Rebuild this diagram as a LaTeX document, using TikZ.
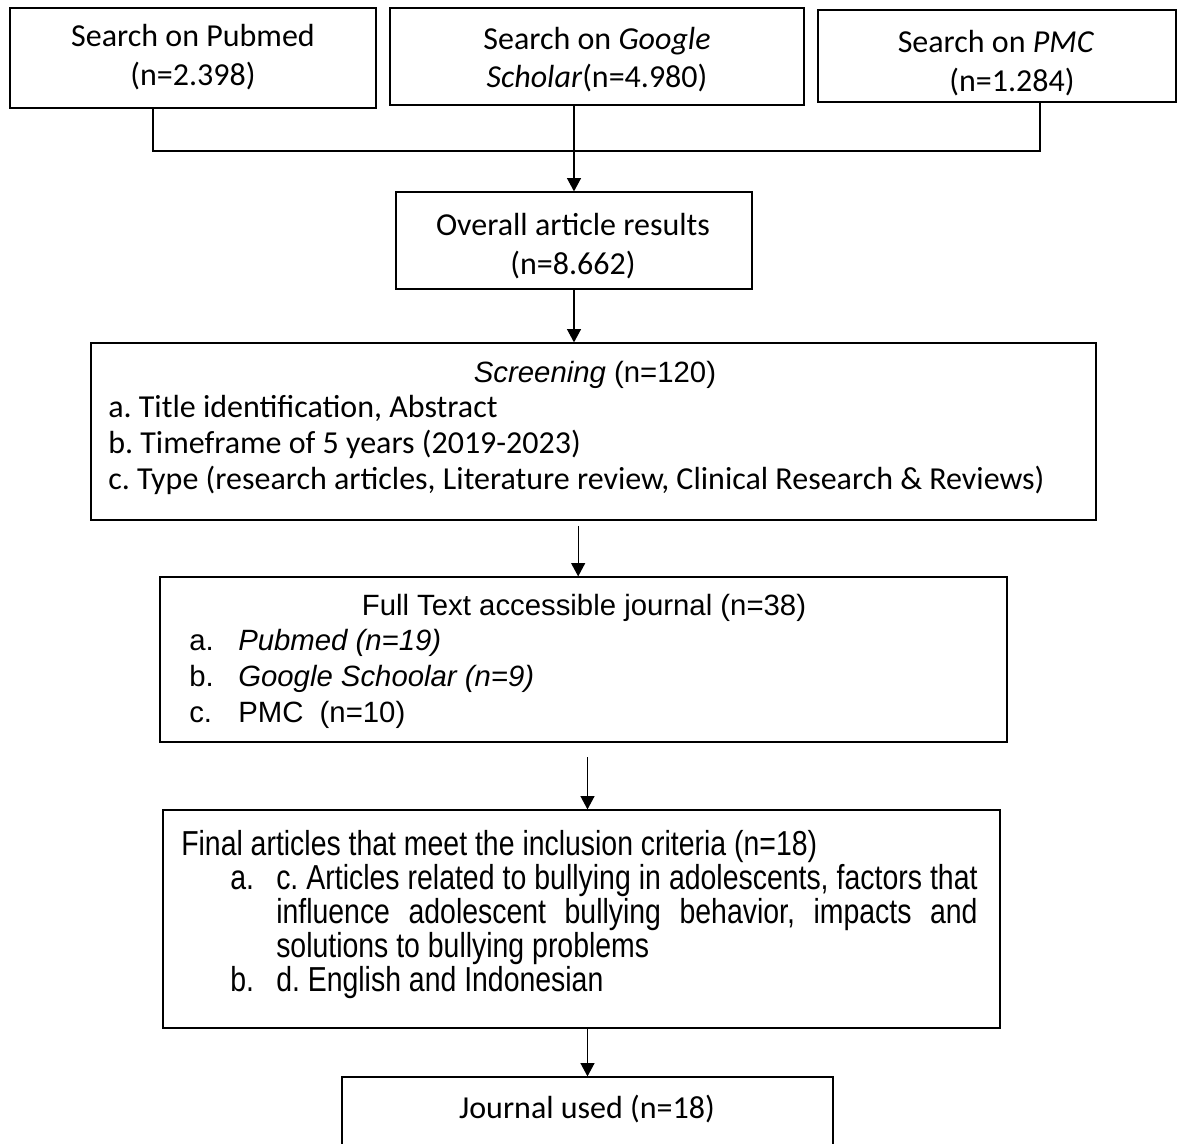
\documentclass[tikz,border=0pt]{standalone}
\usepackage{fontspec}
\setmainfont{Carlito}
\newfontfamily\arialf{Liberation Sans}
\newfontfamily\narrowf[FakeStretch=0.82]{Liberation Sans}
\usetikzlibrary{arrows.meta,fit}
\frenchspacing
\begin{document}
\begin{tikzpicture}[x=0.75pt,y=-0.75pt,
  box/.style={draw, line width=0.9pt, inner sep=0pt, fit={#1}},
  ln/.style={line width=0.9pt},
  arr/.style={line width=0.9pt, -{Triangle[length=10pt,width=10.5pt]}},
  cal/.style={inner sep=0pt, anchor=base, font=\fontsize{24}{29}\selectfont},
  calL/.style={cal, anchor=base west},
  ari/.style={inner sep=0pt, anchor=base, font=\arialf\fontsize{22}{26}\selectfont},
  ariL/.style={ari, anchor=base west},
  nar/.style={inner sep=0pt, anchor=base west, font=\narrowf\fontsize{26}{30}\selectfont}]
\useasboundingbox (0,0) rectangle (1179,1144);
\clip (0,0) rectangle (1179,1144);
% boxes
\node[box={(10,8) (376,108)}] (pm) {};
\node[box={(390,8) (804,105)}] (gs) {};
\node[box={(818,10) (1176,102)}] (pmc) {};
\node[box={(396,192) (752,289)}] (ov) {};
\node[box={(91,343) (1096,520)}] (scr) {};
\node[box={(160,577) (1007,742)}] (ft) {};
\node[box={(163,810) (1000,1028)}] (fin) {};
\node[box={(342,1077) (833,1170)}] (jr) {};
% texts
\node[cal] (pmA) at (193,47) {Search on Pubmed};
\node[cal] (pmB) at (193,86) {(n=2.398)};
\node[cal] (gsA) at (597,50) {Search on \textit{Google}};
\node[cal] (gsB) at (597,88) {\textit{Scholar}(n=4.980)};
\node[cal] (pmcA) at (996,53) {Search on \textit{PMC}};
\node[cal] (pmcB) at (1012,92) {(n=1.284)};
\node[cal] (ovA) at (573,236) {Overall article results};
\node[cal] (ovB) at (573,275) {(n=8.662)};
\node[ari] (scrT) at (595,383) {\textit{Screening} (n=120)};
\node[calL] (scrA) at (108,418) {a. Title identification, Abstract};
\node[calL] (scrB) at (108,454) {b. Timeframe of 5 years (2019-2023)};
\node[calL] (scrC) at (108,490) {c. Type (research articles, Literature review, Clinical Research \& Reviews)};
\node[ari] (ftT) at (584,616) {Full Text accessible journal (n=38)};
\node[ariL] (ftAl) at (189,651) {a.};
\node[ariL] (ftA) at (238,651) {\textit{Pubmed (n=19)}};
\node[ariL] (ftBl) at (189,687) {b.};
\node[ariL] (ftB) at (238,687) {\textit{Google Schoolar (n=9)}};
\node[ariL] (ftCl) at (189,723) {c.};
\node[ariL] (ftC) at (238,723) {PMC\ \ (n=10)};
\node[nar] (fnT) at (181,855) {Final articles that meet the inclusion criteria (n=18)};
\node[nar] (fnAl) at (230,889) {a.};
\node[nar] (fnA1) at (276,889) {\makebox[526pt][s]{c. Articles related to bullying in adolescents, factors that}};
\node[nar] (fnA2) at (276,923) {\makebox[526pt][s]{influence adolescent bullying behavior, impacts and}};
\node[nar] (fnA3) at (276,957) {solutions to bullying problems};
\node[nar] (fnBl) at (230,991) {b.};
\node[nar] (fnB) at (276,991) {d. English and Indonesian};
\node[cal] (jrT) at (587,1118) {Journal used (n=18)};
% connectors
\coordinate (jL) at (153,151);
\coordinate (jR) at (1040,151);
\draw[ln] (pm.south -| jL) -- (jL) -- (jR) -- (pmc.south -| jR);
\draw[arr] (gs.south -| ov.north) -- (ov.north);
\draw[arr] (ov.south) -- (ov.south |- scr.north);
\draw[arr, shorten <=4pt] ([xshift=-4pt]ft.north |- scr.south) -- ([xshift=-4pt]ft.north);
\draw[arr, shorten <=11pt] (jr.north |- ft.south) -- (jr.north |- fin.north);
\draw[arr] (jr.north |- fin.south) -- (jr.north);
\end{tikzpicture}
\end{document}
